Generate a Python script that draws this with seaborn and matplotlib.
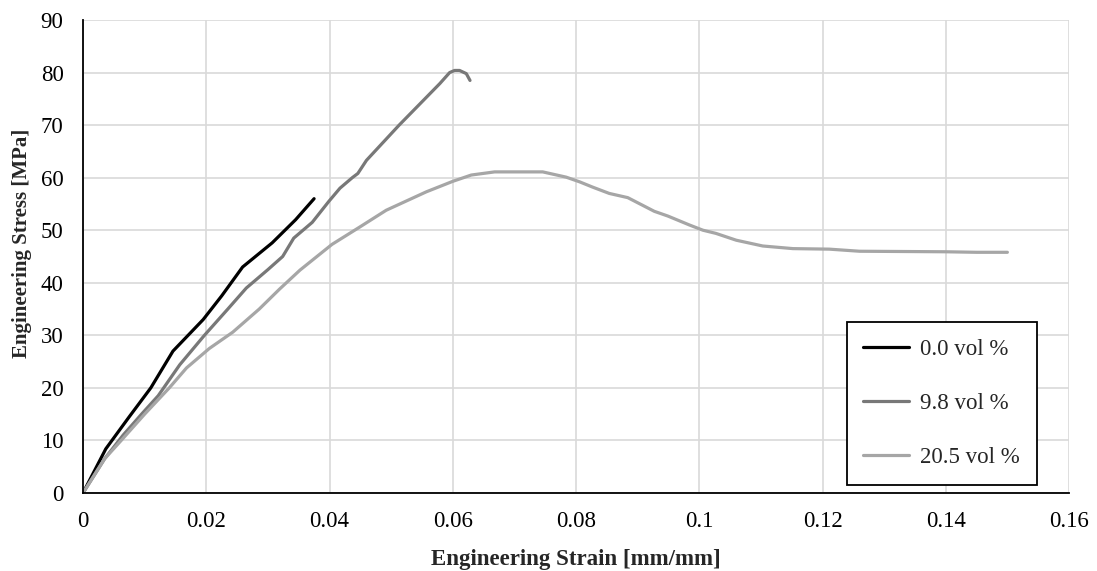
import matplotlib
matplotlib.use("Agg")
import matplotlib.pyplot as plt
import seaborn as sns
import pandas as pd

# ---- data ----
strain_0 = [0.0, 0.0037, 0.0075, 0.011, 0.0146, 0.0195, 0.0225, 0.0259, 0.0307, 0.0345, 0.0375]
stress_0 = [0.0, 8.4, 14.5, 20.0, 27.0, 33.0, 37.5, 43.0, 47.6, 52.0, 56.0]

strain_98 = [0.0, 0.0035, 0.0065, 0.0095, 0.0122, 0.0157, 0.0197, 0.0235, 0.0265, 0.0300,
             0.0324, 0.0342, 0.0372, 0.0399, 0.0417, 0.0437, 0.0446, 0.0460, 0.0513,
             0.0579, 0.0595, 0.0603, 0.0611, 0.0622, 0.0628]
stress_98 = [0.0, 6.5, 11.0, 15.0, 18.5, 24.4, 30.0, 35.0, 39.0, 42.5,
             45.0, 48.5, 51.5, 55.5, 58.0, 60.0, 60.8, 63.3, 70.0,
             77.9, 80.0, 80.4, 80.4, 79.8, 78.5]

strain_205 = [0.0, 0.0035, 0.0062, 0.010, 0.014, 0.0168, 0.0205, 0.0243, 0.0286, 0.0319,
              0.0352, 0.0404, 0.0449, 0.0492, 0.0557, 0.0600, 0.0630, 0.0668, 0.0746,
              0.0784, 0.0806, 0.0827, 0.0854, 0.0884, 0.0927, 0.0949, 0.0984, 0.1006,
              0.1027, 0.1060, 0.1103, 0.1152, 0.1211, 0.1260, 0.1400, 0.1450, 0.1500]
stress_205 = [0.0, 6.5, 10.0, 15.0, 20.0, 23.8, 27.5, 30.6, 35.0, 38.8,
              42.4, 47.3, 50.6, 53.8, 57.3, 59.3, 60.5, 61.1, 61.1,
              60.1, 59.2, 58.2, 57.0, 56.2, 53.6, 52.7, 51.0, 50.0,
              49.4, 48.1, 47.0, 46.5, 46.4, 46.0, 45.9, 45.8, 45.8]

labels = ["0.0 vol %", "9.8 vol %", "20.5 vol %"]
colors = ["#000000", "#787878", "#a6a6a6"]
x_ticks = [0, 0.02, 0.04, 0.06, 0.08, 0.1, 0.12, 0.14, 0.16]
x_tick_labels = ["0", "0.02", "0.04", "0.06", "0.08", "0.1", "0.12", "0.14", "0.16"]
y_ticks = [0, 10, 20, 30, 40, 50, 60, 70, 80, 90]

sns.set_theme(style="white")
plt.rcParams["font.family"] = ["Liberation Serif", "DejaVu Serif"]

fig = plt.figure(figsize=(10.97, 5.71), dpi=100)
ax = fig.add_axes([83 / 1097, (571 - 493) / 571, (1069 - 83) / 1097, (493 - 20) / 571])

series = [(strain_0, stress_0), (strain_98, stress_98), (strain_205, stress_205)]
for (xs, ys), lab, col in zip(series, labels, colors):
    df = pd.DataFrame({"strain": xs, "stress": ys})
    sns.lineplot(data=df, x="strain", y="stress", sort=False, color=col, lw=2.3,
                 label=lab, ax=ax, solid_capstyle="round", solid_joinstyle="round")

ax.set_xlim(0, 0.16)
ax.set_ylim(0, 90)
ax.set_xticks(x_ticks)
ax.set_xticklabels(x_tick_labels)
ax.set_yticks(y_ticks)
ax.grid(True, color="#d9d9d9", lw=1.2)
ax.set_axisbelow(True)
for s in ["top", "right"]:
    ax.spines[s].set_visible(False)
for s in ["left", "bottom"]:
    ax.spines[s].set_color("black")
    ax.spines[s].set_linewidth(1.3)
    ax.spines[s].set_zorder(3)
ax.tick_params(axis="both", labelsize=16.5, colors="black", length=0)
ax.tick_params(axis="x", pad=13)
ax.tick_params(axis="y", pad=14)
ax.set_xlabel("Engineering Strain [mm/mm]", fontsize=16.5, fontweight="bold", labelpad=12)
ax.set_ylabel("Engineering Stress [MPa]", fontsize=15, fontweight="bold")
ax.yaxis.set_label_coords(-0.0515, 0.528)

leg = ax.legend(loc="upper left", bbox_to_anchor=(846.7 / 1097, 1 - 322 / 571),
                bbox_transform=fig.transFigure, borderaxespad=0, fontsize=16.5,
                frameon=True, fancybox=False, handlelength=2.0, handletextpad=0.5,
                labelspacing=1.45, borderpad=0.72)
leg.get_frame().set_edgecolor("black")
leg.get_frame().set_linewidth(1.3)
leg.get_frame().set_alpha(1)

fig.savefig("out.png", dpi=100)
